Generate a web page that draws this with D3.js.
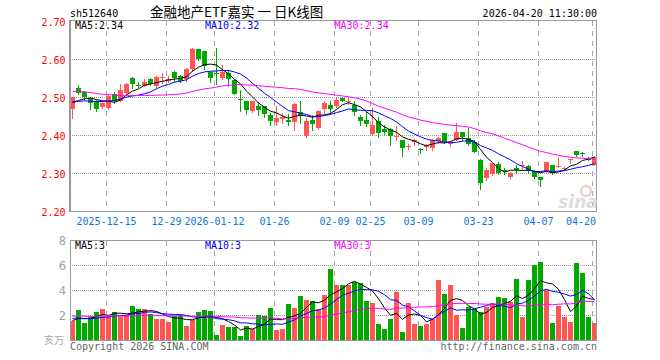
<!DOCTYPE html>
<html><head><meta charset="utf-8">
<script src="https://cdn.jsdelivr.net/npm/d3@7"></script>
<style>body{margin:0;background:#fff}svg{display:block}</style>
</head><body><svg id="c" width="660" height="360"></svg>
<script>
// ---------------- data ----------------
const dates = ["2025-12-05","2025-12-08","2025-12-09","2025-12-10","2025-12-11","2025-12-12","2025-12-15","2025-12-16","2025-12-17","2025-12-18","2025-12-19","2025-12-22","2025-12-23","2025-12-24","2025-12-25","2025-12-26","2025-12-29","2025-12-30","2025-12-31","2026-01-05","2026-01-06","2026-01-07","2026-01-08","2026-01-09","2026-01-12","2026-01-13","2026-01-14","2026-01-15","2026-01-16","2026-01-19","2026-01-20","2026-01-21","2026-01-22","2026-01-23","2026-01-26","2026-01-27","2026-01-28","2026-01-29","2026-01-30","2026-02-02","2026-02-03","2026-02-04","2026-02-05","2026-02-06","2026-02-09","2026-02-10","2026-02-11","2026-02-12","2026-02-13","2026-02-24","2026-02-25","2026-02-26","2026-02-27","2026-03-02","2026-03-03","2026-03-04","2026-03-05","2026-03-06","2026-03-09","2026-03-10","2026-03-11","2026-03-12","2026-03-13","2026-03-16","2026-03-17","2026-03-18","2026-03-19","2026-03-20","2026-03-23","2026-03-24","2026-03-25","2026-03-26","2026-03-27","2026-03-30","2026-03-31","2026-04-01","2026-04-02","2026-04-03","2026-04-07","2026-04-08","2026-04-09","2026-04-10","2026-04-13","2026-04-14","2026-04-15","2026-04-16","2026-04-17","2026-04-20"];

const open  = [2.469,2.524,2.515,2.497,2.490,2.475,2.473,2.510,2.491,2.512,2.552,2.533,2.530,2.547,2.530,2.551,2.544,2.567,2.556,2.548,2.575,2.626,2.622,2.566,2.565,2.550,2.563,2.545,2.496,2.490,2.464,2.477,2.477,2.453,2.436,2.443,2.440,2.436,2.462,2.398,2.440,2.418,2.469,2.480,2.477,2.499,2.487,2.481,2.449,2.439,2.404,2.438,2.417,2.417,2.395,2.388,2.372,2.382,2.364,2.368,2.366,2.385,2.405,2.376,2.388,2.408,2.392,2.383,2.335,2.287,2.297,2.324,2.310,2.289,2.313,2.318,2.318,2.305,2.291,2.304,2.322,2.317,2.313,2.337,2.359,2.353,2.340,2.323];
const high  = [2.501,2.532,2.516,2.500,2.493,2.490,2.510,2.514,2.534,2.538,2.554,2.539,2.547,2.551,2.556,2.565,2.556,2.570,2.558,2.576,2.630,2.627,2.623,2.567,2.629,2.585,2.572,2.547,2.520,2.490,2.490,2.488,2.477,2.458,2.477,2.458,2.455,2.486,2.489,2.445,2.453,2.467,2.489,2.489,2.497,2.500,2.497,2.489,2.453,2.462,2.471,2.449,2.427,2.418,2.425,2.388,2.378,2.390,2.366,2.377,2.390,2.395,2.407,2.384,2.432,2.408,2.420,2.388,2.337,2.313,2.328,2.331,2.313,2.303,2.322,2.333,2.322,2.309,2.291,2.331,2.322,2.344,2.316,2.338,2.360,2.356,2.342,2.346];
const low   = [2.446,2.508,2.496,2.468,2.465,2.472,2.470,2.484,2.490,2.510,2.525,2.526,2.530,2.533,2.528,2.538,2.541,2.544,2.540,2.542,2.570,2.597,2.575,2.540,2.536,2.548,2.530,2.508,2.465,2.457,2.462,2.454,2.449,2.427,2.427,2.432,2.428,2.414,2.432,2.396,2.414,2.416,2.460,2.458,2.475,2.490,2.483,2.453,2.427,2.425,2.401,2.396,2.404,2.375,2.388,2.346,2.364,2.375,2.354,2.361,2.361,2.381,2.379,2.372,2.388,2.388,2.374,2.355,2.259,2.282,2.296,2.297,2.298,2.287,2.300,2.311,2.300,2.287,2.267,2.300,2.297,2.316,2.311,2.326,2.346,2.346,2.334,2.322];
const close = [2.501,2.512,2.502,2.486,2.469,2.486,2.503,2.490,2.519,2.535,2.535,2.531,2.539,2.535,2.553,2.553,2.549,2.550,2.543,2.575,2.627,2.601,2.582,2.552,2.562,2.566,2.547,2.510,2.492,2.467,2.489,2.467,2.456,2.438,2.445,2.449,2.436,2.482,2.451,2.438,2.430,2.464,2.486,2.468,2.493,2.491,2.490,2.462,2.438,2.430,2.427,2.405,2.410,2.399,2.399,2.366,2.373,2.388,2.362,2.374,2.388,2.392,2.383,2.381,2.410,2.396,2.376,2.357,2.274,2.309,2.326,2.300,2.305,2.300,2.310,2.322,2.305,2.289,2.282,2.329,2.300,2.318,2.314,2.338,2.348,2.351,2.336,2.343];
const volume = [1.52,2.40,1.36,1.81,2.24,2.48,1.92,2.24,1.84,2.00,2.72,2.48,2.48,2.08,1.68,1.68,1.44,1.92,2.00,1.12,1.60,2.24,2.40,2.32,0.40,1.20,1.04,1.04,0.32,1.12,0.88,2.00,1.92,2.56,0.80,0.88,2.88,2.56,3.52,3.20,3.12,2.48,3.60,5.68,4.40,4.40,4.40,4.61,4.53,3.12,2.96,1.28,0.88,1.68,3.84,0.64,2.96,1.28,1.12,1.28,1.68,4.80,3.68,4.40,2.00,0.96,2.64,2.48,2.27,2.64,2.96,3.44,3.36,3.04,4.88,1.84,4.80,6.00,6.24,4.00,1.36,2.72,1.84,1.44,6.16,5.36,1.84,1.36];

// sessions before the window (estimated so the moving averages start where the picture shows them)
const priorClose  = [2.52,2.53,2.54,2.55,2.54,2.53,2.54,2.55,2.54,2.53,2.52,2.53,2.54,2.53,2.545,2.53,2.52,2.51,2.50,2.50,2.49,2.49,2.49,2.485,2.48,2.49,2.48,2.475,2.49];
const priorVolume = [2.2,1.8,2.4,1.9,2.1,1.7,2.3,2.0,1.8,2.2,1.9,2.1,2.0,2.3,1.7,1.9,2.2,2.0,1.8,1.9,2.1,1.8,2.0,1.7,1.95,1.6,1.4,1.7,1.55];

const tickDates  = ["2025-12-15","2025-12-29","2026-01-12","2026-01-26","2026-02-09","2026-02-25","2026-03-09","2026-03-23","2026-04-07","2026-04-20"];
const tickLabels = ["2025-12-15","12-29","2026-01-12","01-26","02-09","02-25","03-09","03-23","04-07","04-20"];
const priceTicks = [2.20,2.30,2.40,2.50,2.60,2.70];
const volTicks   = [2,4,6,8];
const maPeriods  = [5,10,30];
const maPriceText = ["2.34","2.32","2.34"];
const maVolText   = ["3","3","3"];

// ---------------- layout ----------------
const svg = d3.select("#c");
const L = 70, R = 597, T1 = 20, B1 = 211, T2 = 240, B2 = 340;
const RED = "#ff5555", GREEN = "#00a800", GRID = "#a8a8a8";
const maColors = ["#000000","#0000ff","#ff00ff"];
const mono = "'DejaVu Sans Mono', monospace";
const idx = d3.range(dates.length);

const x = d3.scaleBand().domain(idx).range([69.3, 597]).paddingInner(0);
const cx = i => Math.round(x(i) + 0.5) + 2.5;
const y = d3.scaleLinear().domain([2.2, 2.7]).range([211.3, 21.3]);
const yv = d3.scaleLinear().domain([0, 8]).range([B2, T2]);

function ma(prior, vals, n) {
  const all = prior.concat(vals), off = prior.length;
  return vals.map((_, i) => d3.mean(all.slice(off + i - n + 1, off + i + 1)));
}

// clip paths
const defs = svg.append("defs");
defs.append("clipPath").attr("id","cp1").append("rect").attr("x",L).attr("y",T1).attr("width",R-L).attr("height",B1-T1);
defs.append("clipPath").attr("id","cp2").append("rect").attr("x",L).attr("y",T2).attr("width",R-L).attr("height",B2-T2);

// ---------------- header ----------------
svg.append("text").attr("x",70).attr("y",17).attr("font-family",mono).attr("font-size",10).text("sh512640");
svg.append("text").attr("x",150).attr("y",16.5).attr("font-family","'Noto Sans CJK SC', sans-serif").attr("font-size",13.5)
  .style("white-space","pre").text("金融地产ETF嘉实 一 日K线图");
svg.append("text").attr("x",597).attr("y",16.5).attr("text-anchor","end").attr("font-family",mono).attr("font-size",10).text("2026-04-20 11:30:00");

// ---------------- grids ----------------
function vgrid(top, bottom) {
  svg.append("g").selectAll("line").data(tickDates).join("line")
    .attr("x1", d => Math.round(x(dates.indexOf(d)) + 1) + 0.5)
    .attr("x2", d => Math.round(x(dates.indexOf(d)) + 1) + 0.5)
    .attr("y1", top).attr("y2", bottom)
    .attr("stroke", GRID).attr("stroke-dasharray","5,5").attr("shape-rendering","crispEdges");
}
vgrid(T1 + 1, B1);
vgrid(T2 + 1, B2);

svg.append("g").selectAll("line").data(priceTicks.filter(v => v > 2.2 && v < 2.7)).join("line")
  .attr("x1", L).attr("x2", R)
  .attr("y1", v => Math.round(y(v)) + 0.5).attr("y2", v => Math.round(y(v)) + 0.5)
  .attr("stroke","#999").attr("stroke-dasharray","1,1").attr("shape-rendering","crispEdges");
svg.append("g").selectAll("line").data(volTicks.filter(v => v < 8)).join("line")
  .attr("x1", L).attr("x2", R)
  .attr("y1", v => Math.round(yv(v)) + 0.5).attr("y2", v => Math.round(yv(v)) + 0.5)
  .attr("stroke","#999").attr("stroke-dasharray","1,1").attr("shape-rendering","crispEdges");

// ---------------- axes labels ----------------
svg.append("g").selectAll("text").data(priceTicks).join("text")
  .attr("x", 65.5).attr("y", v => Math.round(y(v)) + 5)
  .attr("text-anchor","end").attr("font-family",mono).attr("font-size",10).attr("fill","#ff0000")
  .text(v => d3.format(".2f")(v));
svg.append("g").selectAll("text").data(volTicks).join("text")
  .attr("x", 66).attr("y", v => Math.round(yv(v)) + 4.5)
  .attr("text-anchor","end").attr("font-family","'DejaVu Sans', sans-serif").attr("font-size",11.5).attr("fill","#a0a0a0")
  .text(v => v);
svg.append("text").attr("x",64).attr("y",344).attr("text-anchor","end")
  .attr("font-family","'Noto Sans CJK SC', sans-serif").attr("font-size",10).attr("fill","#a8a8a8").text("亥万");

svg.append("g").selectAll("text").data(tickDates).join("text")
  .attr("x", (d, k) => {
    const cxp = Math.round(x(dates.indexOf(d)) + 1) + 0.5;
    const w = tickLabels[k].length * 6.02;
    return Math.min(cxp, 596 - w / 2);
  })
  .attr("y", 225).attr("text-anchor","middle").attr("font-family",mono).attr("font-size",10).attr("fill","#0a78d6")
  .text((d, k) => tickLabels[k]);

// ---------------- candles ----------------
const gc = svg.append("g").attr("clip-path","url(#cp1)").attr("shape-rendering","crispEdges");
idx.forEach(i => {
  const up = close[i] >= open[i];
  const col = up ? RED : GREEN;
  const xc = cx(i);
  gc.append("line").attr("x1",xc).attr("x2",xc)
    .attr("y1", Math.round(y(high[i]))).attr("y2", Math.round(y(low[i])) + 1).attr("stroke",col);
  const yt = Math.round(y(Math.max(open[i], close[i])));
  const yb = Math.round(y(Math.min(open[i], close[i])));
  gc.append("rect").attr("x", xc - 2.5).attr("y", yt).attr("width", 5).attr("height", Math.max(1, yb - yt)).attr("fill", col);
});

// ---------------- volume bars ----------------
const gv = svg.append("g").attr("clip-path","url(#cp2)").attr("shape-rendering","crispEdges");
gv.selectAll("rect").data(idx).join("rect")
  .attr("x", i => cx(i) - 2.5).attr("width", 5)
  .attr("y", i => Math.round(yv(volume[i]))).attr("height", i => B2 - Math.round(yv(volume[i])))
  .attr("fill", i => close[i] >= open[i] ? RED : GREEN);

// ---------------- moving averages ----------------
maPeriods.forEach((n, k) => {
  const mp = ma(priorClose, close, n);
  const mv = ma(priorVolume, volume, n);
  svg.append("path").attr("clip-path","url(#cp1)")
    .attr("d", d3.line().x((v, i) => cx(i)).y(v => y(v))(mp))
    .attr("fill","none").attr("stroke",maColors[k]).attr("stroke-width",1);
  svg.append("path").attr("clip-path","url(#cp2)")
    .attr("d", d3.line().x((v, i) => cx(i)).y(v => yv(v))(mv))
    .attr("fill","none").attr("stroke",maColors[k]).attr("stroke-width",1);
});

// ---------------- frames ----------------
svg.append("rect").attr("x",L+0.5).attr("y",T1+0.5).attr("width",R-L-1).attr("height",B1-T1)
  .attr("fill","none").attr("stroke","#999").attr("shape-rendering","crispEdges");
svg.append("rect").attr("x",L+0.5).attr("y",T2+0.5).attr("width",R-L-1).attr("height",B2-T2)
  .attr("fill","none").attr("stroke","#999").attr("shape-rendering","crispEdges");
svg.append("line").attr("x1",L-0.5).attr("x2",L-0.5).attr("y1",T1).attr("y2",B1+1).attr("stroke","#999").attr("shape-rendering","crispEdges");

// ---------------- MA legends ----------------
const legX = [75, 205, 334.5];
maPeriods.forEach((n, k) => {
  svg.append("text").attr("x",legX[k]).attr("y",29).attr("font-family",mono).attr("font-size",10)
    .attr("fill",maColors[k]).text("MA" + n + ":" + maPriceText[k]);
  svg.append("text").attr("x",legX[k]).attr("y",249).attr("font-family",mono).attr("font-size",10)
    .attr("fill",maColors[k]).text("MA" + n + ":" + maVolText[k]);
});

// ---------------- watermark & footer ----------------
svg.append("circle").attr("cx",586).attr("cy",191).attr("r",5).attr("fill","none").attr("stroke","#f4c4c4").attr("stroke-width",2);
svg.append("text").attr("x",578).attr("y",208).attr("text-anchor","middle")
  .attr("font-family","'DejaVu Sans', sans-serif").attr("font-size",17).attr("font-weight","bold").attr("font-style","italic")
  .attr("fill","#dcdcdc").text("sina");
svg.append("text").attr("x",70).attr("y",350).attr("font-family",mono).attr("font-size",10).attr("fill","#666").text("Copyright 2026 SINA.COM");
svg.append("text").attr("x",597).attr("y",350).attr("text-anchor","end").attr("font-family",mono).attr("font-size",10).attr("fill","#666").text("http://finance.sina.com.cn");
</script></body></html>
